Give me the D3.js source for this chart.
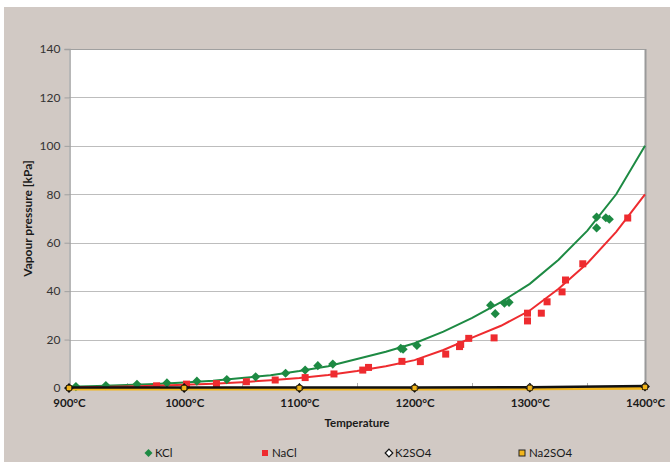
<!DOCTYPE html>
<html>
<head>
<meta charset="utf-8">
<script src="https://cdn.jsdelivr.net/npm/d3@7"></script>
<style>
  html, body { margin: 0; padding: 0; background: #ffffff; }
  svg { display: block; font-family: Lato, "Open Sans", "Liberation Sans", sans-serif; }
</style>
</head>
<body>
<svg id="chart" width="670" height="462"></svg>
<script>
// ---- data ----
const curveTemps = [900, 925, 950, 975, 1000, 1025, 1050, 1075, 1100, 1125, 1150, 1175, 1200, 1225, 1250, 1275, 1300, 1325, 1350, 1375, 1400];
const kclCurve  = [0.55, 0.8, 1.2, 1.7, 2.3, 3.0, 4.1, 5.3, 7.0, 9.0, 12.0, 15.0, 18.5, 23.3, 29.0, 35.5, 43.0, 53.0, 65.0, 80.0, 100];
const naclCurve = [0.3, 0.45, 0.65, 0.9, 1.3, 1.8, 2.4, 3.2, 4.1, 5.4, 7.0, 9.0, 11.5, 15.7, 20.8, 25.7, 32.0, 41.0, 51.5, 64.5, 80];

const kclObsT = [906, 932, 959, 985, 1011, 1037, 1062, 1088, 1105, 1116, 1129, 1188, 1190, 1202, 1266, 1270, 1278, 1282, 1358, 1358, 1366, 1369];
const kclObsP = [0.6, 1.0, 1.5, 2.1, 2.8, 3.5, 4.6, 6.1, 7.4, 9.2, 9.9, 16.4, 16.0, 17.6, 34.2, 30.7, 35.0, 35.4, 70.6, 66.1, 70.3, 69.7];

const naclObsT = [976, 1002, 1028, 1054, 1079, 1105, 1130, 1155, 1160, 1189, 1205, 1227, 1239, 1240, 1247, 1269, 1298, 1298, 1310, 1315, 1328, 1331, 1346, 1385];
const naclObsP = [0.9, 1.6, 1.8, 2.6, 3.3, 4.3, 5.8, 7.4, 8.5, 11.0, 10.9, 14.0, 17.1, 18.0, 20.5, 20.7, 30.9, 27.7, 30.9, 35.6, 39.7, 44.6, 51.3, 70.2];

const sulfateTemps = [900, 1000, 1100, 1200, 1300, 1400];
const k2so4 = [0, 0.002, 0.01, 0.04, 0.15, 0.6];
const na2so4 = [0, 0.001, 0.005, 0.02, 0.08, 0.35];

const xTicks = [900, 1000, 1100, 1200, 1300, 1400];
const xMinorTicks = [950, 1050, 1150, 1250, 1350];
const yTicks = [0, 20, 40, 60, 80, 100, 120, 140];
const legendNames = ["KCl", "NaCl", "K2SO4", "Na2SO4"];

// ---- layout ----
const svg = d3.select("#chart");
const W = 670, H = 462;
const plot = {left: 69, right: 645, top: 49, bottom: 388};
const x = d3.scaleLinear().domain([900, 1400]).range([plot.left, plot.right]);
const y = d3.scaleLinear().domain([0, 140]).range([plot.bottom, plot.top]);

const bg = "#d1c9c4";
const green = "#1d8a43";
const red = "#ee2b2f";
const yellow = "#f2b51c";

svg.append("rect").attr("x", 0).attr("y", 0).attr("width", W).attr("height", H).attr("fill", "#ffffff");
svg.append("rect").attr("x", 4).attr("y", 7).attr("width", W - 4).attr("height", H - 7).attr("fill", bg);

// plot area
svg.append("rect")
  .attr("x", plot.left).attr("y", plot.top)
  .attr("width", plot.right - plot.left).attr("height", plot.bottom - plot.top)
  .attr("fill", "#ffffff");

// gridlines
svg.append("g").selectAll("line").data(yTicks.filter(d => d > 0)).join("line")
  .attr("x1", plot.left).attr("x2", plot.right)
  .attr("y1", d => Math.round(y(d)) + 0.5).attr("y2", d => Math.round(y(d)) + 0.5)
  .attr("stroke", "#bdbdbd").attr("stroke-width", 1.2);

// plot border
svg.append("line").attr("x1", plot.right + 0.5).attr("x2", plot.right + 0.5)
  .attr("y1", plot.top).attr("y2", plot.bottom).attr("stroke", "#9a9a9a").attr("stroke-width", 2);
svg.append("line").attr("x1", plot.left).attr("x2", plot.right)
  .attr("y1", plot.top + 0.5).attr("y2", plot.top + 0.5).attr("stroke", "#a0a0a0").attr("stroke-width", 1);

// y axis
const yAxis = d3.axisLeft(y).tickValues(yTicks).tickSize(5).tickPadding(4).tickFormat(d3.format("d"));
const gy = svg.append("g").attr("transform", `translate(${plot.left + 0.5},0)`).call(yAxis);
gy.select(".domain").attr("stroke", "#a0a0a0").attr("stroke-width", 1.5);
gy.selectAll(".tick line").attr("stroke", "#a0a0a0");
gy.selectAll(".tick text").attr("font-size", 12).attr("fill", "#333333")
  .attr("font-family", "Lato, 'Open Sans', sans-serif");

// x axis
const xAxis = d3.axisBottom(x).tickValues(xTicks).tickSize(0).tickPadding(11).tickFormat(d => d + "°C");
const gx = svg.append("g").attr("transform", `translate(0,${plot.bottom})`).call(xAxis);
gx.select(".domain").attr("stroke", "#a0a0a0");
gx.selectAll(".tick text").attr("font-size", 11.5).attr("font-weight", "bold").attr("fill", "#1a1a1a")
  .attr("font-family", "Lato, 'Open Sans', sans-serif");
svg.append("g").selectAll("line").data(xTicks.concat(xMinorTicks)).join("line")
  .attr("x1", d => Math.round(x(d)) + 0.5).attr("x2", d => Math.round(x(d)) + 0.5)
  .attr("y1", plot.bottom).attr("y2", plot.bottom - 5)
  .attr("stroke", "#b0b0b0").attr("stroke-width", 1);

// axis titles
svg.append("text")
  .attr("x", (plot.left + plot.right) / 2).attr("y", 427)
  .attr("text-anchor", "middle").attr("font-size", 11.5).attr("font-weight", "bold").attr("fill", "#1a1a1a")
  .text("Temperature");
svg.append("text")
  .attr("transform", `translate(32,${(plot.top + plot.bottom) / 2}) rotate(-90)`)
  .attr("text-anchor", "middle").attr("font-size", 12).attr("font-weight", "bold").attr("fill", "#1a1a1a")
  .text("Vapour pressure [kPa]");

// ---- lines ----
const line = d3.line().x(d => x(d[0])).y(d => y(d[1]));
const kclLine = curveTemps.map((t, i) => [t, kclCurve[i]]);
const naclLine = curveTemps.map((t, i) => [t, naclCurve[i]]);
svg.append("path").datum(kclLine).attr("d", line).attr("fill", "none").attr("stroke", green).attr("stroke-width", 2);
svg.append("path").datum(naclLine).attr("d", line).attr("fill", "none").attr("stroke", red).attr("stroke-width", 2);

// ---- observed markers ----
const diamondPath = "M0,-4.6L4.6,0L0,4.6L-4.6,0Z";
svg.append("g").selectAll("path").data(kclObsT.map((t, i) => [t, kclObsP[i]])).join("path")
  .attr("transform", d => `translate(${x(d[0])},${y(d[1])})`)
  .attr("d", diamondPath).attr("fill", green);
svg.append("g").selectAll("rect").data(naclObsT.map((t, i) => [t, naclObsP[i]])).join("rect")
  .attr("x", d => x(d[0]) - 3.5).attr("y", d => y(d[1]) - 3.5)
  .attr("width", 7).attr("height", 7).attr("fill", red);

// ---- sulfate series ----
const naSoLine = sulfateTemps.map((t, i) => [t, na2so4[i]]);
const kSoLine = sulfateTemps.map((t, i) => [t, k2so4[i]]);
svg.append("path").datum(naSoLine).attr("d", line).attr("transform", "translate(0,1)")
  .attr("fill", "none").attr("stroke", yellow).attr("stroke-width", 3);
svg.append("path").datum(kSoLine).attr("d", line).attr("transform", "translate(0,-0.5)")
  .attr("fill", "none").attr("stroke", "#111111").attr("stroke-width", 2.5);
svg.append("g").selectAll("path").data(kSoLine).join("path")
  .attr("transform", d => `translate(${x(d[0])},${y(d[1])})`)
  .attr("d", "M0,-4L4,0L0,4L-4,0Z").attr("fill", "#ffffff").attr("stroke", "#111111").attr("stroke-width", 1.3);
svg.append("g").selectAll("rect").data(naSoLine).join("rect")
  .attr("x", d => x(d[0]) - 2.5).attr("y", d => y(d[1]) - 2.5)
  .attr("width", 5).attr("height", 5).attr("fill", yellow).attr("stroke", "#3a2a00").attr("stroke-width", 0.8);

// ---- legend ----
const legendY = 453;
const legendItems = [
  {name: legendNames[0], mx: 148.5, tx: 155},
  {name: legendNames[1], mx: 265, tx: 272},
  {name: legendNames[2], mx: 389, tx: 395},
  {name: legendNames[3], mx: 522, tx: 529}
];
const lg = svg.append("g");
lg.append("path").attr("transform", `translate(${legendItems[0].mx},${legendY})`).attr("d", "M0,-4L4,0L0,4L-4,0Z").attr("fill", green);
lg.append("rect").attr("x", legendItems[1].mx - 3).attr("y", legendY - 3).attr("width", 6).attr("height", 6).attr("fill", red);
lg.append("path").attr("transform", `translate(${legendItems[2].mx},${legendY})`).attr("d", "M0,-3.8L3.8,0L0,3.8L-3.8,0Z")
  .attr("fill", "#ffffff").attr("stroke", "#111111").attr("stroke-width", 1.2);
lg.append("rect").attr("x", legendItems[3].mx - 3).attr("y", legendY - 3).attr("width", 6).attr("height", 6)
  .attr("fill", yellow).attr("stroke", "#222222").attr("stroke-width", 1);
lg.selectAll("text").data(legendItems).join("text")
  .attr("x", d => d.tx).attr("y", legendY + 4)
  .attr("font-size", 11.5).attr("fill", "#1a1a1a")
  .text(d => d.name);
</script>
</body>
</html>
